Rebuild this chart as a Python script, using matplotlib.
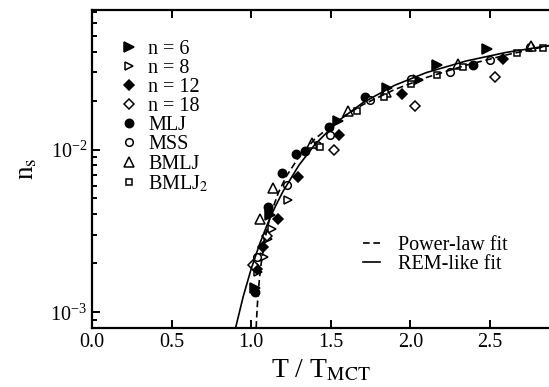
import matplotlib
matplotlib.use("Agg")
import matplotlib.pyplot as plt
import numpy as np

plt.rcParams["font.family"] = ["Liberation Serif", "DejaVu Serif"]
plt.rcParams["mathtext.fontset"] = "stix"

# data: T / T_MCT and n_s
t_n6 = [1.023, 1.117, 1.546, 1.854, 2.046, 2.164, 2.478]
ns_n6 = [0.00140, 0.00394, 0.0149, 0.0239, 0.0268, 0.0332, 0.0415]

t_n8 = [1.042, 1.082, 1.107, 1.128, 1.232]
ns_n8 = [0.00176, 0.00218, 0.00283, 0.00326, 0.00487]

t_n12 = [1.034, 1.075, 1.169, 1.295, 1.552, 1.944, 2.580]
ns_n12 = [0.00185, 0.00252, 0.00376, 0.00676, 0.01236, 0.0220, 0.0360]

t_n18 = [1.013, 1.097, 1.519, 2.028, 2.530]
ns_n18 = [0.00194, 0.00296, 0.00996, 0.0186, 0.0278]

t_mlj = [1.023, 1.107, 1.191, 1.281, 1.337, 1.490, 1.714, 2.390]
ns_mlj = [0.00133, 0.00443, 0.00716, 0.00932, 0.00977, 0.01384, 0.0209, 0.0332]

t_mss = [1.034, 1.222, 1.412, 1.494, 1.745, 2.001, 2.247, 2.498, 2.750]
ns_mss = [0.00218, 0.00601, 0.0106, 0.0122, 0.0202, 0.0272, 0.0298, 0.0355, 0.0425]

t_bmlj = [1.055, 1.138, 1.379, 1.609, 1.846, 2.299, 2.756]
ns_bmlj = [0.00376, 0.00582, 0.01093, 0.01734, 0.0225, 0.0336, 0.0435]

t_bmlj2 = [1.431, 1.665, 1.833, 2.001, 2.164, 2.331, 2.666, 2.833]
ns_bmlj2 = [0.01033, 0.01734, 0.0209, 0.0253, 0.0288, 0.0320, 0.0390, 0.0421]

# fit curves
t_pow = [1.031, 1.035, 1.040, 1.050, 1.060, 1.080, 1.100, 1.130, 1.170, 1.220,
         1.300, 1.400, 1.550, 1.700, 1.900, 2.100, 2.350, 2.600, 2.870]
ns_pow = [8.02e-4, 9.68e-4, 1.167e-3, 1.549e-3, 1.914e-3, 2.61e-3, 3.27e-3, 4.21e-3,
          5.41e-3, 6.84e-3, 9.02e-3, 1.161e-2, 1.531e-2, 1.884e-2, 2.335e-2, 2.77e-2,
          3.30e-2, 3.81e-2, 4.35e-2]

t_rem = [0.89, 0.95, 1.00, 1.05, 1.10, 1.15, 1.20, 1.30, 1.40, 1.55, 1.70, 1.90,
         2.10, 2.35, 2.60, 2.87]
ns_rem = [7.19e-4, 1.253e-3, 1.85e-3, 2.58e-3, 3.45e-3, 4.44e-3, 5.54e-3, 8.02e-3,
          1.074e-2, 1.507e-2, 1.936e-2, 2.48e-2, 2.97e-2, 3.50e-2, 3.95e-2, 4.35e-2]

fig = plt.figure(figsize=(5.49, 3.87), dpi=100)
ax = fig.add_axes([92 / 549, 59 / 387, 457 / 549, 318 / 387])

mk = dict(linestyle="none", color="black", mew=1.1)
h6, = ax.plot(t_n6, ns_n6, marker=">", ms=7, mfc="black", label="n = 6", **mk)
h8, = ax.plot(t_n8, ns_n8, marker=">", ms=5.5, mfc="white", label="n = 8", **mk)
h12, = ax.plot(t_n12, ns_n12, marker="D", ms=5, mfc="black", label="n = 12", **mk)
h18, = ax.plot(t_n18, ns_n18, marker="D", ms=5, mfc="white", label="n = 18", **mk)
hmlj, = ax.plot(t_mlj, ns_mlj, marker="o", ms=6, mfc="black", label="MLJ", **mk)
hmss, = ax.plot(t_mss, ns_mss, marker="o", ms=5.5, mfc="white", label="MSS", **mk)
hb, = ax.plot(t_bmlj, ns_bmlj, marker="^", ms=6.5, mfc="white", label="BMLJ", **mk)
hb2, = ax.plot(t_bmlj2, ns_bmlj2, marker="s", ms=5, mfc="white", label="BMLJ$_2$", **mk)

hp, = ax.plot(t_pow, ns_pow, color="black", lw=1.2, linestyle=(0, (4, 2.2)),
              label="Power-law fit")
hr, = ax.plot(t_rem, ns_rem, color="black", lw=1.2, label="REM-like fit")

ax.set_yscale("log")
ax.set_xlim(0.0, 2.87)
ax.set_ylim(8.0e-4, 0.072)
ax.set_xticks([0.0, 0.5, 1.0, 1.5, 2.0, 2.5])
ax.set_xticklabels(["0.0", "0.5", "1.0", "1.5", "2.0", "2.5"])

for s in ["left", "top", "bottom"]:
    ax.spines[s].set_linewidth(1.6)
ax.spines["right"].set_visible(False)
ax.tick_params(which="both", direction="in", top=True, right=False,
               labelsize=14.5, width=1.4)
ax.tick_params(which="major", length=6)
ax.tick_params(which="minor", length=3.5)
ax.tick_params(axis="x", which="minor", top=False, bottom=False)

ax.set_xlabel("T / T$_{\\mathrm{MCT}}$", fontsize=20, labelpad=4)
ax.set_ylabel("n$_{\\mathrm{s}}$", fontsize=19.5, labelpad=8)

leg1 = ax.legend(handles=[h6, h8, h12, h18, hmlj, hmss, hb, hb2], loc="upper left",
                 bbox_to_anchor=(0.059, 0.906), frameon=False, fontsize=14.5,
                 labelspacing=0.0, handletextpad=0.45, handlelength=1.0,
                 borderpad=0, borderaxespad=0)
ax.add_artist(leg1)
ax.legend(handles=[hp, hr], loc="upper left", bbox_to_anchor=(0.593, 0.29),
          frameon=False, fontsize=14.5, labelspacing=0.0, handlelength=0.85,
          handletextpad=0.9, borderpad=0, borderaxespad=0)

fig.savefig("out.png", dpi=100)
